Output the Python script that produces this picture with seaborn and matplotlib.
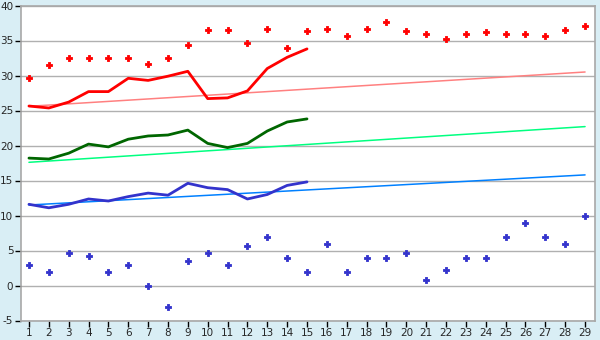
import matplotlib
matplotlib.use("Agg")
import matplotlib.pyplot as plt
import seaborn as sns
import numpy as np
import pandas as pd

days = list(range(1, 30))
max_points = [29.6, 31.45, 32.45, 32.45, 32.45, 32.45, 31.7, 32.45, 34.3, 36.45,
              36.45, 34.6, 36.6, 34.0, 36.3, 36.7, 35.6, 36.6, 37.6, 36.3,
              35.9, 35.2, 36.0, 36.2, 36.0, 36.0, 35.7, 36.5, 37.05]
min_points = [3.0, 2.0, 4.6, 4.17, 2.0, 3.0, 0.0, -3.0, 3.45, 4.7,
              3.0, 5.7, 7.0, 4.0, 1.9, 6.0, 2.0, 4.0, 3.9, 4.7,
              0.74, 2.17, 3.9, 4.0, 7.0, 9.0, 7.0, 6.0, 10.0]
line_days = list(range(1, 16))
max_line = [25.64, 25.36, 26.2, 27.7, 27.7, 29.6, 29.3, 29.9, 30.6, 26.7, 26.8, 27.8, 31.0, 32.6, 33.8]
mean_line = [18.2, 18.07, 18.9, 20.2, 19.8, 20.9, 21.36, 21.5, 22.2, 20.3, 19.7, 20.3, 22.07, 23.36, 23.8]
min_line = [11.6, 11.1, 11.6, 12.36, 12.07, 12.7, 13.2, 12.9, 14.6, 13.97, 13.7, 12.36, 13.0, 14.3, 14.8]
trend_days = [1, 29]
max_trend = [25.6, 30.5]
mean_trend = [17.6, 22.7]
min_trend = [11.5, 15.8]
y_ticks = [-5, 0, 5, 10, 15, 20, 25, 30, 35, 40]

sns.set_style("white")
plt.rcParams['font.family'] = ['DejaVu Sans']
plt.rcParams['axes.unicode_minus'] = False

fig = plt.figure(figsize=(6, 3.4), dpi=100)
fig.patch.set_facecolor('#D9EEF5')
ax = fig.add_axes([21/600, 1 - 320.5/340, (595-21)/600, (320.5-5.5)/340])
ax.set_facecolor('white')

pts = pd.DataFrame({'day': days, 'max': max_points, 'min': min_points})
lines = pd.DataFrame({'day': line_days, 'max': max_line, 'mean': mean_line, 'min': min_line})
trend = pd.DataFrame({'day': trend_days, 'max': max_trend, 'mean': mean_trend, 'min': min_trend})

sns.lineplot(data=trend, x='day', y='max', color='#FF8080', lw=1.1, ax=ax)
sns.lineplot(data=trend, x='day', y='mean', color='#00FF80', lw=1.1, ax=ax)
sns.lineplot(data=trend, x='day', y='min', color='#0080FF', lw=1.1, ax=ax)
sns.lineplot(data=lines, x='day', y='max', color='#FF0000', lw=2, ax=ax)
sns.lineplot(data=lines, x='day', y='mean', color='#006600', lw=2, ax=ax)
sns.lineplot(data=lines, x='day', y='min', color='#3333CC', lw=2, ax=ax)
sns.scatterplot(data=pts, x='day', y='max', color='#FF0000', marker='P', s=20,
                edgecolor='#FF0000', linewidth=0.6, ax=ax)
sns.scatterplot(data=pts, x='day', y='min', color='#3333CC', marker='P', s=20,
                edgecolor='#3333CC', linewidth=0.6, ax=ax)

ax.set_xlim(0.6, 29.5)
ax.set_ylim(-5, 40)
ax.set_xticks(days)
ax.set_yticks(y_ticks)
ax.set_xlabel('')
ax.set_ylabel('')
ax.grid(axis='y', color='#B0B0B0', lw=1)
ax.set_axisbelow(True)
for s in ax.spines.values():
    s.set_color('#A8A8A8')
    s.set_linewidth(1.2)
ax.tick_params(axis='both', direction='out', length=4, width=1, color='black',
               labelsize=7.5, pad=1.5, bottom=True, left=True)
fig.savefig('out.png', dpi=100, facecolor=fig.get_facecolor())
